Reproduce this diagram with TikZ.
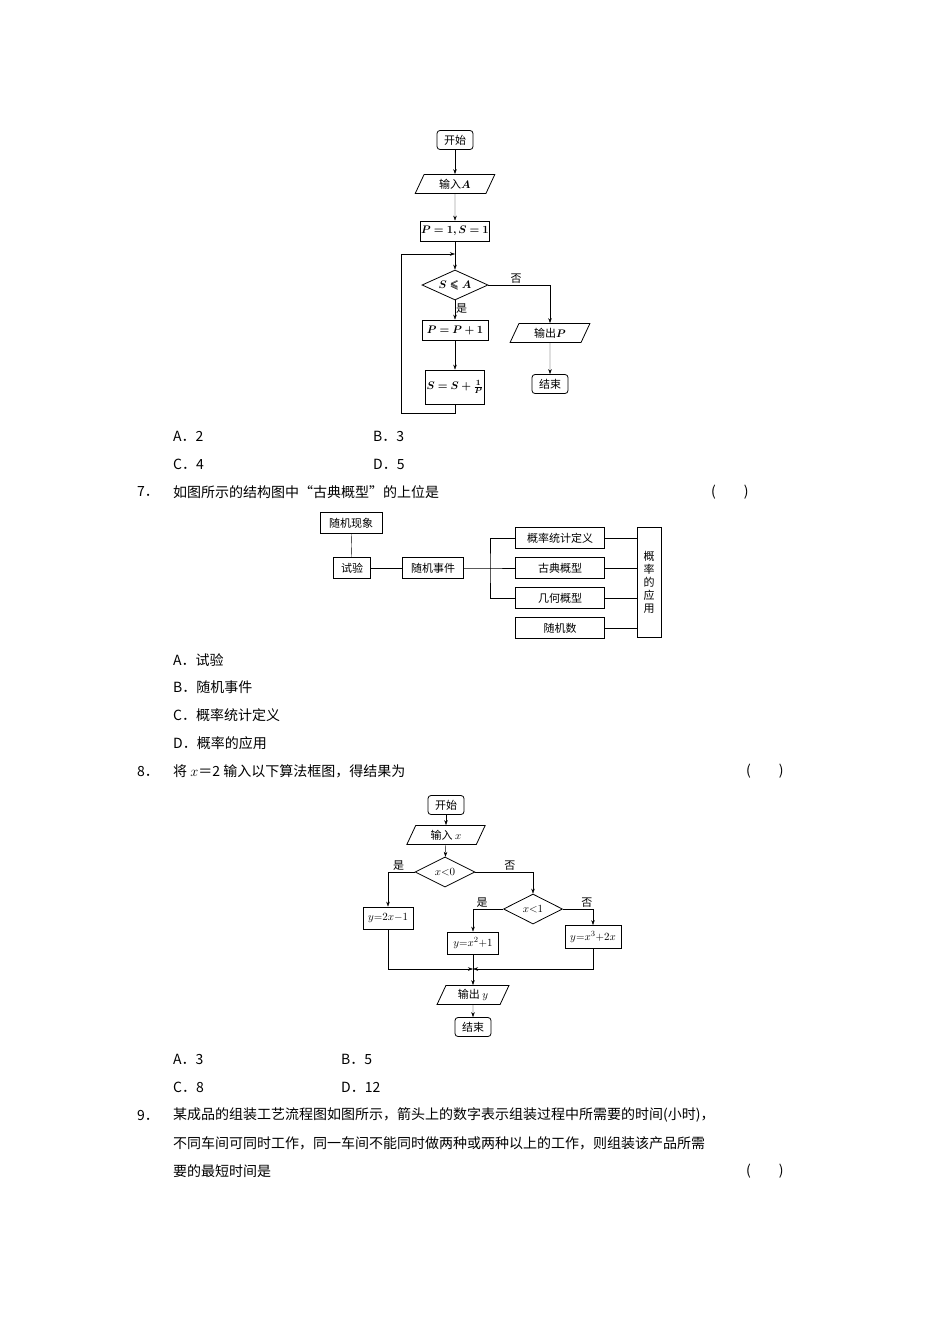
\documentclass[tikz,border=0pt]{standalone}
\usepackage{amsmath,amssymb,bm}
\usepackage{fontspec}
\setmainfont{Noto Sans CJK SC}
\usetikzlibrary{shapes.geometric,arrows.meta}
\begin{document}
\begin{tikzpicture}[x=1pt,y=-1pt,
  every node/.style={font=\fontsize{11}{12}\selectfont, inner sep=1pt},
  txt/.style={font=\fontsize{14}{16}\selectfont, anchor=west},
  bx/.style={draw, thick, minimum height=20pt, align=center},
  term/.style={draw, thick, rounded corners=3pt, minimum height=19pt, minimum width=36pt},
  io/.style={draw, thick, trapezium, trapezium left angle=65, trapezium right angle=115, minimum height=19pt, inner xsep=4pt},
  dec/.style={draw, thick, diamond, aspect=2.2, inner sep=0pt},
  arr/.style={-{Stealth[length=5pt,width=3.5pt]}},
  ln/.style={thin}]
\useasboundingbox (0,0) rectangle (950,1344);
% ---------- flowchart 1
\node[term] (s1) at (455,140) {开始};
\node[io, minimum width=62pt] (in1) at (455,184) {输入$\bm{A}$};
\node[bx, minimum width=66pt] (init) at (455,231) {$\bm{P=1,S=1}$};
\node[dec, minimum width=66pt, minimum height=30pt] (d1) at (455,285) {$\bm{S\leqslant A}$};
\node[bx, minimum width=66pt] (pp) at (455,330) {$\bm{P=P+1}$};
\node[bx, minimum width=55pt, minimum height=34pt] (ss) at (455,387) {$\bm{S=S+\frac{1}{P}}$};
\node[io, minimum width=62pt] (out1) at (550,333) {输出$\bm{P}$};
\node[term] (e1) at (550,384) {结束};
\coordinate (lp1) at (455,413); \coordinate (lp2) at (401,413); \coordinate (lp3) at (401,254); \coordinate (lp4) at (455,254);
\coordinate (nr) at (550,285);
\draw[arr] (s1) -- (in1);
\draw[arr] (in1) -- (init);
\draw[arr] (init) -- (d1);
\draw[arr] (d1) -- node[right, pos=0.45]{是} (pp);
\draw[arr] (pp) -- (ss);
\draw[arr] (ss.south) -- (lp1) -- (lp2) -- (lp3) -- (lp4);
\draw[arr] (d1.east) -- node[above, pos=0.45]{否} (nr) -- (out1);
\draw[arr] (out1) -- (e1);
% ---------- text
\node[txt] (a6) at (172,436) {A．2};
\node[txt] (b6) at (372,436) {B．3};
\node[txt] (c6) at (172,464) {C．4};
\node[txt] (d6) at (372,464) {D．5};
\node[txt] (q7n) at (136,492) {7．};
\node[txt] (q7) at (172,492) {如图所示的结构图中“古典概型”的上位是};
\node[txt] (p7) at (710,492) {(\hspace{2em})};
\node[txt] (a7) at (172,660) {A．试验};
\node[txt] (b7) at (172,687) {B．随机事件};
\node[txt] (c7) at (172,715) {C．概率统计定义};
\node[txt] (d7) at (172,743) {D．概率的应用};
\node[txt] (q8n) at (136,771) {8．};
\node[txt] (q8) at (172,771) {将 $x$＝2 输入以下算法框图，得结果为};
\node[txt] (p8) at (745,771) {(\hspace{2em})};
\node[txt] (a8) at (172,1059) {A．3};
\node[txt] (b8) at (340,1059) {B．5};
\node[txt] (c8) at (172,1087) {C．8};
\node[txt] (d8) at (340,1087) {D．12};
\node[txt] (q9n) at (136,1115) {9．};
\node[txt] (q9a) at (172,1115) {某成品的组装工艺流程图如图所示，箭头上的数字表示组装过程中所需要的时间(小时)，};
\node[txt] (q9b) at (172,1143) {不同车间可同时工作，同一车间不能同时做两种或两种以上的工作，则组装该产品所需};
\node[txt] (q9c) at (172,1171) {要的最短时间是};
\node[txt] (p9) at (745,1171) {(\hspace{2em})};
% ---------- structure chart
\node[bx, minimum width=62pt, minimum height=21pt] (sx) at (351,523) {随机现象};
\node[bx, minimum width=37pt, minimum height=21pt] (sy) at (352,568) {试验};
\node[bx, minimum width=61pt, minimum height=21pt] (sj) at (433,568) {随机事件};
\node[bx, minimum width=89pt, minimum height=21pt] (k1) at (560,538) {概率统计定义};
\node[bx, minimum width=89pt, minimum height=21pt] (k2) at (560,568) {古典概型};
\node[bx, minimum width=89pt, minimum height=21pt] (k3) at (560,598) {几何概型};
\node[bx, minimum width=89pt, minimum height=21pt] (k4) at (560,628) {随机数};
\node[bx, minimum width=24pt, minimum height=110pt, align=center, font=\fontsize{11}{13}\selectfont] (ap) at (649,582) {概\\率\\的\\应\\用};
\coordinate (br) at (490,568);
\draw[ln] (sx) -- (sy);
\draw[ln] (sy) -- (sj);
\draw[ln] (sj) -- (br) -- (k2);
\draw[ln] (k1.west) -| (br) |- (k3.west);
\foreach \k in {k1,k2,k3,k4} \draw[ln] (\k.east) -- (\k.east -| ap.west);
% ---------- flowchart 3
\node[term] (s3) at (446,805) {开始};
\node[io, minimum width=66pt] (in3) at (446,835) {输入 $x$};
\node[dec, minimum width=60pt, minimum height=30pt] (c0) at (445,872) {$x{<}0$};
\node[dec, minimum width=59pt, minimum height=30pt] (c1) at (533,909) {$x{<}1$};
\node[bx, minimum width=50pt, minimum height=22pt] (f1) at (388,918) {$y{=}2x{-}1$};
\node[bx, minimum width=51pt, minimum height=22pt] (f2) at (473,943) {$y{=}x^2{+}1$};
\node[bx, minimum width=56pt, minimum height=23pt] (f3) at (593,937) {$y{=}x^3{+}2x$};
\node[io, minimum width=62pt] (out3) at (473,995) {输出 $y$};
\node[term] (e3) at (473,1027) {结束};
\coordinate (m) at (473,969);
\coordinate (ml) at (388,969); \coordinate (mr) at (593,969);
\draw[arr] (s3) -- (in3);
\draw[arr] (in3) -- (c0);
\draw[arr] (c0.west) -| node[pos=0.3, above]{是} (f1);
\draw[arr] (c0.east) -| node[pos=0.3, above]{否} (c1);
\draw[arr] (c1.west) -| node[pos=0.35, above]{是} (f2);
\draw[arr] (c1.east) -| node[pos=0.4, above]{否} (f3);
\draw[arr] (f1) -- (ml) -- (m);
\draw[arr] (f3) -- (mr) -- (m);
\draw[arr] (f2) -- (out3);
\draw[arr] (out3) -- (e3);
\end{tikzpicture}
\end{document}
